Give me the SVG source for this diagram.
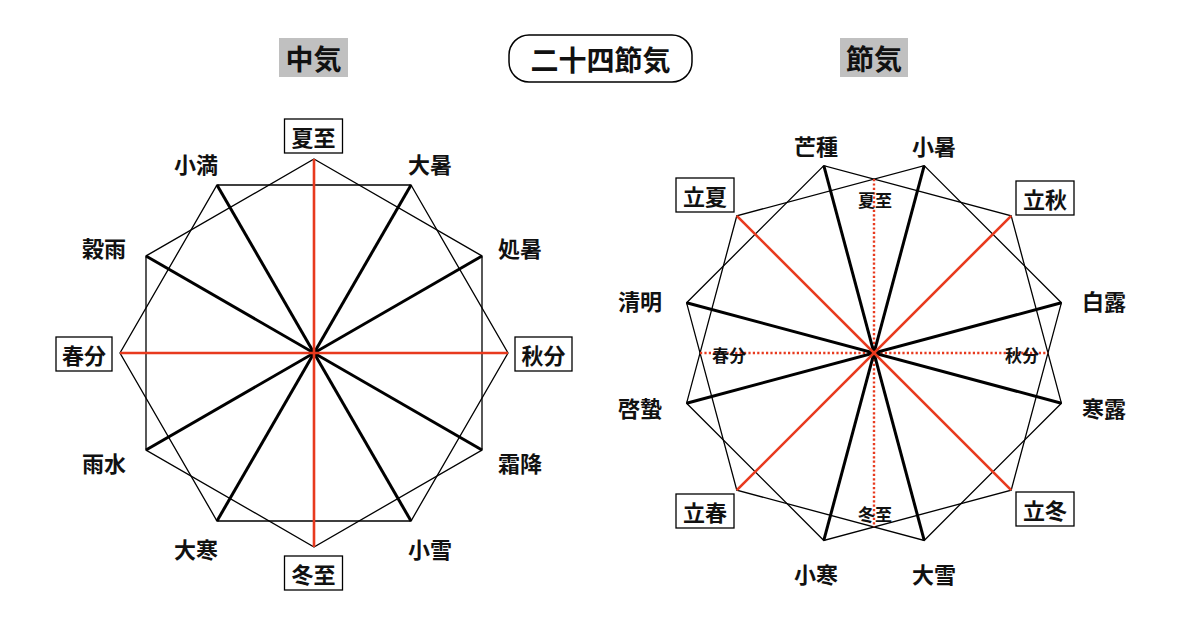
<svg xmlns="http://www.w3.org/2000/svg" width="1200" height="622" viewBox="0 0 1200 622">
<style>
text{font-family:"Noto Sans CJK JP","Noto Sans CJK SC",sans-serif;font-weight:bold;fill:#111;text-anchor:middle;dominant-baseline:central}
.lbl{font-size:22px}
.sm{font-size:17px}
.ttl{font-size:28px}
.box{fill:#fff;stroke:#000;stroke-width:1.3}
.gray{fill:#c0c0c0;stroke:none}
.poly{fill:none;stroke:#000;stroke-width:1.3;stroke-linejoin:miter}
.spoke{stroke:#000;stroke-width:3}
.red{stroke:#e83a1e;stroke-width:2.6}
.reddot{stroke:#e83a1e;stroke-width:2.4;stroke-dasharray:2.2 2.2}
</style>
<rect width="1200" height="622" fill="#fff"/>

<g id="title-chuki"><rect class="gray" x="279" y="38" width="69" height="39"/><text class="ttl" x="313.5" y="58">中気</text></g>
<g id="title-main"><rect x="509" y="35" width="183" height="47" rx="20" ry="20" fill="#fff" stroke="#000" stroke-width="1.5"/><text class="ttl" x="600.5" y="59">二十四節気</text></g>
<g id="title-sekki"><rect class="gray" x="840" y="38" width="68" height="39"/><text class="ttl" x="874" y="58">節気</text></g>

<g id="connectors">
  <!-- left diagram -->
  <polygon class="poly" points="314,159 482,256 482,450 314,547 146,450 146,256"/>
  <polygon class="poly" points="411,185 508,353 411,521 217,521 120,353 217,185"/>
  <line class="spoke" x1="217" y1="185" x2="411" y2="521"/>
  <line class="spoke" x1="411" y1="185" x2="217" y2="521"/>
  <line class="spoke" x1="482" y1="256" x2="146" y2="450"/>
  <line class="spoke" x1="146" y1="256" x2="482" y2="450"/>
  <line class="red" x1="314" y1="159" x2="314" y2="547"/>
  <line class="red" x1="120" y1="353" x2="508" y2="353"/>
  <!-- right diagram -->
  <polygon class="poly" points="924.2,165.6 1061.4,302.8 1011.2,490.2 823.8,540.4 686.6,403.2 736.8,215.8"/>
  <polygon class="poly" points="1011.2,215.8 1061.4,403.2 924.2,540.4 736.8,490.2 686.6,302.8 823.8,165.6"/>
  <line class="reddot" x1="874" y1="179" x2="874" y2="527"/>
  <line class="reddot" x1="700" y1="353" x2="1048" y2="353"/>
  <line class="spoke" x1="823.8" y1="165.6" x2="924.2" y2="540.4"/>
  <line class="spoke" x1="924.2" y1="165.6" x2="823.8" y2="540.4"/>
  <line class="spoke" x1="686.6" y1="302.8" x2="1061.4" y2="403.2"/>
  <line class="spoke" x1="1061.4" y1="302.8" x2="686.6" y2="403.2"/>
  <line class="red" x1="736.8" y1="215.8" x2="1011.2" y2="490.2"/>
  <line class="red" x1="1011.2" y1="215.8" x2="736.8" y2="490.2"/>
</g>

<!-- left labels -->
<g id="geshi"><rect class="box" x="284.5" y="119" width="58" height="34"/><text class="lbl" x="313.5" y="136">夏至</text></g>
<g id="taisho"><text class="lbl" x="430" y="163">大暑</text></g>
<g id="shosho"><text class="lbl" x="520" y="247">処暑</text></g>
<g id="shubun"><rect class="box" x="515" y="337" width="57" height="34"/><text class="lbl" x="543.5" y="354">秋分</text></g>
<g id="soko"><text class="lbl" x="520" y="462">霜降</text></g>
<g id="shosetsu"><text class="lbl" x="430" y="548">小雪</text></g>
<g id="toji"><rect class="box" x="284.5" y="556" width="58" height="34"/><text class="lbl" x="313.5" y="573">冬至</text></g>
<g id="daikan"><text class="lbl" x="196" y="548">大寒</text></g>
<g id="usui"><text class="lbl" x="104" y="462">雨水</text></g>
<g id="shunbun"><rect class="box" x="56" y="337" width="56" height="34"/><text class="lbl" x="84" y="354">春分</text></g>
<g id="kokuu"><text class="lbl" x="104" y="247">穀雨</text></g>
<g id="shoman"><text class="lbl" x="196" y="163">小満</text></g>

<!-- right labels -->
<g id="shosho2"><text class="lbl" x="934" y="145">小暑</text></g>
<g id="risshu"><rect class="box" x="1016" y="181" width="58" height="34"/><text class="lbl" x="1045" y="198">立秋</text></g>
<g id="hakuro"><text class="lbl" x="1104" y="300">白露</text></g>
<g id="kanro"><text class="lbl" x="1104" y="407">寒露</text></g>
<g id="ritto"><rect class="box" x="1016" y="492" width="58" height="34"/><text class="lbl" x="1045" y="509">立冬</text></g>
<g id="taisetsu"><text class="lbl" x="934" y="573">大雪</text></g>
<g id="shokan"><text class="lbl" x="816" y="573">小寒</text></g>
<g id="risshun"><rect class="box" x="676" y="494" width="58" height="34"/><text class="lbl" x="705" y="511">立春</text></g>
<g id="keichitsu"><text class="lbl" x="640" y="407">啓蟄</text></g>
<g id="seimei"><text class="lbl" x="640" y="300">清明</text></g>
<g id="rikka"><rect class="box" x="676" y="178" width="58" height="34"/><text class="lbl" x="705" y="195">立夏</text></g>
<g id="boshu"><text class="lbl" x="816" y="145">芒種</text></g>

<g id="small-labels">
  <text class="sm" x="875" y="199">夏至</text>
  <text class="sm" x="729" y="354">春分</text>
  <text class="sm" x="1022" y="354">秋分</text>
  <text class="sm" x="875" y="513">冬至</text>
</g>
</svg>
